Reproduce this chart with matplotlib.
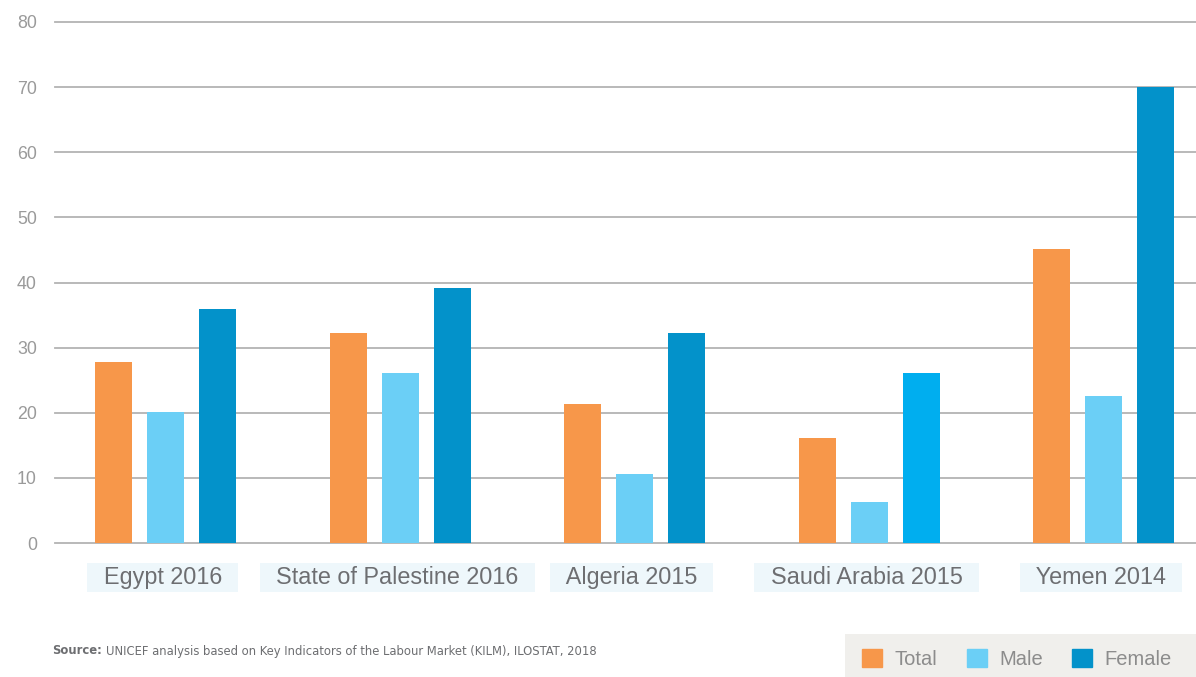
import matplotlib
matplotlib.use("Agg")
import matplotlib.pyplot as plt
import matplotlib.patches as mpatches
import numpy as np

categories = ["Egypt 2016", "State of Palestine 2016", "Algeria 2015", "Saudi Arabia 2015", "Yemen 2014"]
series_names = ["Total", "Male", "Female"]
total = [27.8, 32.3, 21.4, 16.1, 45.2]
male = [20.1, 26.1, 10.6, 6.3, 22.6]
female = [35.9, 39.2, 32.3, 26.1, 70.0]
yticks = [0, 10, 20, 30, 40, 50, 60, 70, 80]

c_total = "#F7974A"
c_male = "#6BCFF6"
c_female = "#0392CA"
c_female_alt = "#00AEEF"
female_colors = [c_female, c_female, c_female, c_female_alt, c_female]

plt.rcParams['font.family'] = ['Liberation Sans', 'DejaVu Sans']

W, H = 1196, 677
fig = plt.figure(figsize=(W / 100, H / 100), dpi=100)
ax = fig.add_axes([55 / W, 1 - 543 / H, (1196 - 55) / W, (543 - 22) / H])

x = np.arange(len(categories))
off = 0.2217
bw = 0.158
ax.bar(x - off, total, bw, color=c_total, zorder=3, label="Total")
ax.bar(x, male, bw, color=c_male, zorder=3, label="Male")
ax.bar(x + off, female, bw, color=female_colors, zorder=3, label="Female")

ax.set_xlim(-0.471, 4.393)
ax.set_ylim(0, 80)
ax.set_yticks(yticks)
ax.set_yticklabels([str(v) for v in yticks])
ax.yaxis.grid(True, color="#B3B3B3", linewidth=1.3, zorder=0)
for gl in ax.get_ygridlines():
    gl.set_clip_on(False)
ax.set_axisbelow(True)
ax.tick_params(axis="y", length=0, pad=13, labelsize=12.8, labelcolor="#9A9A9A")
ax.tick_params(axis="x", length=0, labelbottom=False)
for s in ax.spines.values():
    s.set_visible(False)

for i, cat in enumerate(categories):
    ax.annotate("  " + cat + "  ", xy=(x[i], 0), xycoords="data", xytext=(-2, -25),
                textcoords="offset points",
                ha="center", va="center", fontsize=16.8, color="#6D6E71",
                bbox=dict(boxstyle="square,pad=0.14", facecolor="#EEF7FB", edgecolor="none"),
                annotation_clip=False)

src_font = dict(family=['DejaVu Sans'], stretch='condensed')
t1 = fig.text(52 / W, 1 - 651 / H, "Source:", fontsize=9.3, fontweight="bold", color="#6D6E71",
              va="center", ha="left", **src_font)
fig.canvas.draw()
bb = t1.get_window_extent(renderer=fig.canvas.get_renderer())
fig.text((bb.x1 + 4) / W, 1 - 651 / H,
         "UNICEF analysis based on Key Indicators of the Labour Market (KILM), ILOSTAT, 2018",
         fontsize=9.3, color="#6D6E71", va="center", ha="left", **src_font)

# legend background panel
fig.patches.append(mpatches.Rectangle((845 / W, 0), (W - 845) / W, 43 / H,
                                      transform=fig.transFigure, facecolor="#F0EFEC",
                                      edgecolor="none", zorder=0))
handles = [mpatches.Patch(color=c) for c in (c_total, c_male, c_female)]
leg = fig.legend(handles, series_names, loc="center left", bbox_to_anchor=(862 / W, 1 - 659 / H),
                 ncol=3, frameon=False, fontsize=14.5, labelcolor="#8C8C8C",
                 handlelength=1.0, handleheight=1.0, handletextpad=0.62, columnspacing=1.45,
                 borderpad=0, borderaxespad=0)

fig.savefig("out.png", dpi=100)
